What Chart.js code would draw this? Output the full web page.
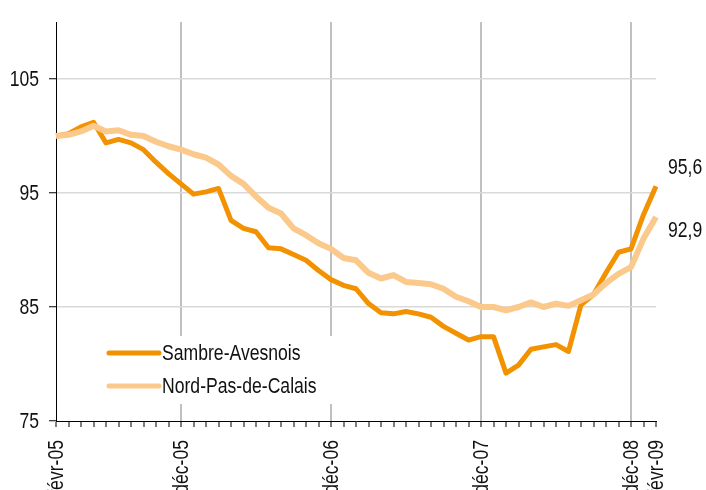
<!DOCTYPE html>
<html>
<head>
<meta charset="utf-8">
<script src="https://cdn.jsdelivr.net/npm/chart.js@4"></script>
<style>
  html, body { margin: 0; padding: 0; background: #fff; overflow: hidden; }
  #wrap { width: 706px; height: 490px; position: relative; }
</style>
</head>
<body>
<div id="wrap"><canvas id="indice-chart"></canvas></div>
<script>
// mois de févr-05 à févr-09
const months = ['janv', 'févr', 'mars', 'avr', 'mai', 'juin', 'juil', 'août', 'sept', 'oct', 'nov', 'déc'];
const labels = [];
for (let i = 0; i < 49; i++) {
    const m = (1 + i) % 12;
    const y = 5 + Math.floor((1 + i) / 12);
    labels.push(months[m] + '-' + String(y).padStart(2, '0'));
}

// indice base 100 en févr-05
const sambre = [
    100.0, 100.2, 100.8, 101.2, 99.4, 99.7, 99.4, 98.8, 97.7, 96.7,
    95.8, 94.9, 95.1, 95.4, 92.6, 91.9, 91.6, 90.2, 90.1, 89.6,
    89.1, 88.2, 87.4, 86.9, 86.6, 85.3, 84.5, 84.4, 84.6, 84.4,
    84.1, 83.3, 82.7, 82.1, 82.4, 82.4, 79.2, 79.9, 81.3, 81.5,
    81.7, 81.1, 85.2, 86.1, 88.0, 89.8, 90.1, 93.1, 95.6
];
const npdc = [
    100.0, 100.1, 100.4, 100.9, 100.4, 100.5, 100.1, 100.0, 99.5, 99.1,
    98.8, 98.4, 98.1, 97.5, 96.5, 95.8, 94.7, 93.7, 93.2, 91.9,
    91.3, 90.6, 90.1, 89.3, 89.1, 88.0, 87.5, 87.8, 87.2, 87.1,
    87.0, 86.6, 85.9, 85.5, 85.0, 85.0, 84.7, 85.0, 85.4, 85.0,
    85.3, 85.1, 85.6, 86.1, 87.1, 87.9, 88.5, 91.0, 92.9
];
const seriesNames = ['Sambre-Avesnois', 'Nord-Pas-de-Calais'];
const yTicks = [75, 85, 95, 105];

const FONT = '22px "Liberation Sans", Arial, sans-serif';
const SQUEEZE = 0.8; // police étroite (type Arial Narrow)
const TEXT = '#111';
const DARK = '#f39200';
const LIGHT = '#fac98b';

function showLabel(i) {
    return i === 0 || i === labels.length - 1 || labels[i].startsWith('déc');
}

// texte condensé horizontalement
function narrowText(ctx, txt, x, y, align) {
    ctx.save();
    ctx.translate(x, y);
    ctx.scale(SQUEEZE, 1);
    ctx.textAlign = align || 'left';
    ctx.fillText(txt, 0, 0);
    ctx.restore();
}

// étiquettes des axes, dessinées en police étroite
const narrowTicks = {
    id: 'narrowTicks',
    afterDraw(chart) {
        const ctx = chart.ctx;
        const xs = chart.scales.x, ys = chart.scales.y;
        ctx.save();
        ctx.fillStyle = TEXT;
        ctx.font = FONT;
        ctx.textBaseline = 'middle';
        ys.ticks.forEach(function(t, i) {
            narrowText(ctx, String(t.value), ys.right - 17, ys.getPixelForTick(i) + 1, 'right');
        });
        xs.ticks.forEach(function(t, i) {
            if (!showLabel(i)) return;
            ctx.save();
            ctx.translate(xs.getPixelForTick(i) + 1, xs.top + 19);
            ctx.rotate(-Math.PI / 2);
            narrowText(ctx, labels[i], 0, 0, 'right');
            ctx.restore();
        });
        ctx.restore();
    }
};

// légende dans la zone du graphique, sur fond blanc
const legendBox = {
    id: 'legendBox',
    beforeDatasetsDraw(chart) {
        const ctx = chart.ctx;
        ctx.save();
        ctx.fillStyle = '#fff';
        ctx.fillRect(95, 336, 245, 68);
        chart.data.datasets.forEach(function(ds, k) {
            const y = 353 + k * 33;
            ctx.strokeStyle = ds.borderColor;
            ctx.lineWidth = 5;
            ctx.lineCap = 'round';
            ctx.beginPath();
            ctx.moveTo(109, y);
            ctx.lineTo(159, y);
            ctx.stroke();
            ctx.fillStyle = TEXT;
            ctx.font = FONT;
            ctx.textBaseline = 'middle';
            narrowText(ctx, ds.label, 162, y + 1);
        });
        ctx.restore();
    }
};

// valeurs finales à droite
const endLabels = {
    id: 'endLabels',
    afterDraw(chart) {
        const ctx = chart.ctx;
        const xs = chart.scales.x, ys = chart.scales.y;
        const last = labels.length - 1;
        const offsets = [-18, 14];
        ctx.save();
        ctx.fillStyle = TEXT;
        ctx.font = FONT;
        ctx.textBaseline = 'middle';
        chart.data.datasets.forEach(function(ds, k) {
            const v = ds.data[last];
            narrowText(ctx, v.toFixed(1).replace('.', ','), xs.getPixelForValue(last) + 12, ys.getPixelForValue(v) + offsets[k]);
        });
        ctx.restore();
    }
};

const chart = new Chart(document.getElementById('indice-chart'), {
    type: 'line',
    data: {
        labels: labels,
        datasets: [
            { label: seriesNames[0], data: sambre, borderColor: DARK, borderWidth: 5, order: 2 },
            { label: seriesNames[1], data: npdc, borderColor: LIGHT, borderWidth: 6, order: 1 }
        ]
    },
    options: {
        responsive: true,
        maintainAspectRatio: false,
        animation: false,
        layout: { padding: { top: 22, right: 50, left: 0, bottom: 0 } },
        elements: {
            point: { radius: 0 },
            line: { tension: 0, borderJoinStyle: 'round', borderCapStyle: 'butt' }
        },
        plugins: {
            legend: { display: false },
            tooltip: { enabled: false }
        },
        scales: {
            x: {
                offset: false,
                grid: {
                    offset: false,
                    color: function(c) { return (c.index > 0 && c.index < labels.length - 1 && showLabel(c.index)) ? '#c0c0c0' : 'rgba(0,0,0,0)'; },
                    lineWidth: 2,
                    tickColor: '#000',
                    tickWidth: 1,
                    tickLength: 6
                },
                border: { color: '#000', width: 1 },
                ticks: {
                    autoSkip: false,
                    maxRotation: 90,
                    minRotation: 90,
                    color: 'rgba(0,0,0,0)',
                    font: { size: 21 },
                    callback: function(v, i) { return showLabel(i) ? labels[i] : ''; }
                },
                afterFit: function(scale) { scale.height = 69; }
            },
            y: {
                min: 75,
                max: 110,
                grid: {
                    color: function(c) { return c.tick && c.tick.value === 75 ? 'rgba(0,0,0,0)' : '#d9d9d9'; },
                    lineWidth: 1.5,
                    tickColor: '#000',
                    tickWidth: 1,
                    tickLength: 7
                },
                border: { color: '#000', width: 1 },
                ticks: {
                    color: 'rgba(0,0,0,0)',
                    font: { size: 21 }
                },
                afterBuildTicks: function(scale) {
                    scale.ticks = yTicks.map(function(v) { return { value: v }; });
                },
                afterFit: function(scale) { scale.width = 56; }
            }
        }
    },
    plugins: [legendBox, endLabels, narrowTicks]
});
</script>
</body>
</html>
